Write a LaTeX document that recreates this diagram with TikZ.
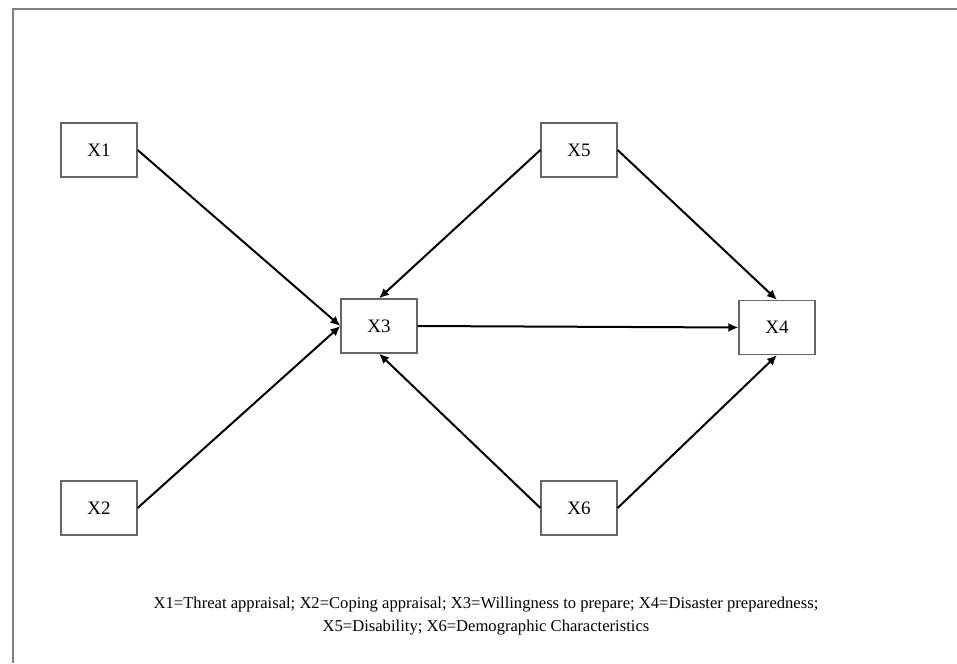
\documentclass[tikz,border=0pt]{standalone}
\usepackage{fontspec}
\setmainfont{Liberation Serif}
\usetikzlibrary{arrows.meta}
\begin{document}
\begin{tikzpicture}[x=1pt,y=-1pt,
  box/.style={draw=black!60,line width=1.2pt,minimum width=76pt,minimum height=54pt,inner sep=0pt,font=\fontsize{19}{21}\selectfont},
  arr/.style={line width=2pt,-{Latex[length=10pt,width=9pt]}}]
\useasboundingbox (0,0) rectangle (957,663);
\draw[gray,line width=2pt] (13,663) -- (13,9.5) -- (957,9.5);
\node[box] (x1) at (99,150) {X1};
\node[box] (x2) at (99,508) {X2};
\node[box] (x3) at (379,326) {X3};
\node[box] (x4) at (777,327.5) {X4};
\node[box] (x5) at (579,150) {X5};
\node[box] (x6) at (579,508) {X6};
\draw[arr] (x1.east) -- (x3.west);
\draw[arr] (x2.east) -- (x3.west);
\draw[arr] (x5.west) -- (x3.north);
\draw[arr] (x6.west) -- (x3.south);
\draw[arr] (x3.east) -- (x4.west);
\draw[arr] (x5.east) -- (x4.north);
\draw[arr] (x6.east) -- (x4.south);
\node[align=center,font=\fontsize{16.6}{23}\selectfont] (cap) at (486,616) {X1=Threat appraisal; X2=Coping appraisal; X3=Willingness to prepare; X4=Disaster preparedness;\\X5=Disability; X6=Demographic Characteristics};
\end{tikzpicture}
\end{document}
